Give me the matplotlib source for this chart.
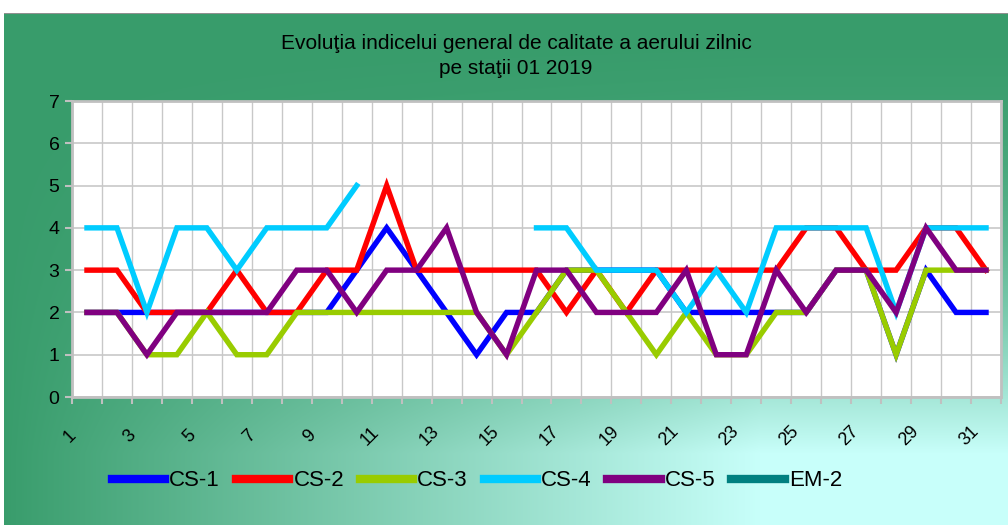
import numpy as np
import matplotlib
matplotlib.use("Agg")
import matplotlib.pyplot as plt
import matplotlib.transforms as mtransforms
from matplotlib.colors import to_rgb

plt.rcParams['font.family'] = ['Liberation Sans', 'DejaVu Sans']

nan = np.nan
days = list(range(1, 32))

cs1 = [2, 2, 2, 2, 2, 2, 2, 2, 2, 3, 4, 3, 2, 1, 2, 2, 3, 3, 3, 3, 2, 2, 2, 2, 2, 3, 3, 1, 3, 2, 2]
cs2 = [3, 3, 2, 2, 2, 3, 2, 2, 3, 3, 5, 3, 3, 3, 3, 3, 2, 3, 2, 3, 3, 3, 3, 3, 4, 4, 3, 3, 4, 4, 3]
cs3 = [2, 2, 1, 1, 2, 1, 1, 2, 2, 2, 2, 2, 2, 2, 1, 2, 3, 3, 2, 1, 2, 1, 1, 2, 2, 3, 3, 1, 3, 3, 3]
cs4 = [4, 4, 2, 4, 4, 3, 4, 4, 4, 5, nan, nan, nan, nan, nan,
       4, 4, 3, 3, 3, 2, 3, 2, 4, 4, 4, 4, 2, 4, 4, 4]
cs5 = [2, 2, 1, 2, 2, 2, 2, 3, 3, 2, 3, 3, 4, 2, 1, 3, 3, 2, 2, 2, 3, 1, 1, 3, 2, 3, 3, 2, 4, 3, 3]
em2 = [nan] * 31

series = [("CS-1", cs1, "#0000ff"), ("CS-2", cs2, "#ff0000"), ("CS-3", cs3, "#99cc00"),
          ("CS-4", cs4, "#00ccff"), ("CS-5", cs5, "#800080"), ("EM-2", em2, "#008080")]

title = "Evoluţia indicelui general de calitate a aerului zilnic\npe staţii 01 2019"

W, H = 1008, 525
fig = plt.figure(figsize=(W / 100, H / 100), dpi=100, facecolor="white")

# gradient background (green top/left -> light cyan bottom right)
bg = fig.add_axes([4 / W, 0, 1 - 4 / W, (H - 13) / H])
yy, xx = np.mgrid[13:H, 4:W]
t = np.clip(xx / 760.0, 0, 1) * np.clip((yy - 13) / 440.0, 0, 1) ** 2
g = np.array(to_rgb("#389c6b"))
c = np.array(to_rgb("#c8fffa"))
img = g[None, None, :] * (1 - t[..., None]) + c[None, None, :] * t[..., None]
bg.imshow(img, aspect="auto", extent=[0, 1, 0, 1], origin="upper")
bg.axhline(1, color="#909090", lw=1.5)
bg.set_axis_off()

ax = fig.add_axes([72 / W, 1 - 397 / H, (1001 - 72) / W, (397 - 101) / H])
ax.set_facecolor("white")

for name, vals, col in series:
    ax.plot(days, vals, color=col, lw=3.9, label=name, solid_joinstyle="miter")

ax.set_xlim(0.5, 31.5)
ax.set_ylim(0, 7)
ax.set_yticks(range(0, 8))
ax.set_xticks(days[::2])
ax.set_xticks(np.arange(0.5, 32, 1), minor=True)
ax.grid(True, which="minor", axis="x", color="#c8c8c8", lw=1)
ax.grid(True, which="major", axis="y", color="#c8c8c8", lw=1.2)
ax.set_axisbelow(True)
ax.tick_params(axis="x", which="major", length=0, labelsize=13, pad=0)
ax.tick_params(axis="x", which="minor", length=5, color="#c0c0c0", width=1.5)
ax.tick_params(axis="y", length=5, color="#c0c0c0", width=1.5, labelsize=14, pad=4)
shift = mtransforms.ScaledTranslation(-0.17, -0.39, fig.dpi_scale_trans)
for lab in ax.get_xticklabels():
    lab.set_rotation(45)
    lab.set_ha("center")
    lab.set_va("center")
    lab.set_rotation_mode("anchor")
    lab.set_transform(lab.get_transform() + shift)
for s in ax.spines.values():
    s.set_color("#c0c0c0")
    s.set_linewidth(2)

fig.text(516 / W, 1 - 56 / H, title, ha="center", va="center", fontsize=15, linespacing=1.35)

leg = fig.legend(loc="center", bbox_to_anchor=(477 / W, 1 - 481 / H), ncol=6, frameon=False,
                 fontsize=16, handlelength=2.4, handletextpad=0.2, columnspacing=0.7,
                 handleheight=0.5)
for h in leg.get_lines():
    h.set_linewidth(6)

fig.savefig("out.png", dpi=100, facecolor="white")
